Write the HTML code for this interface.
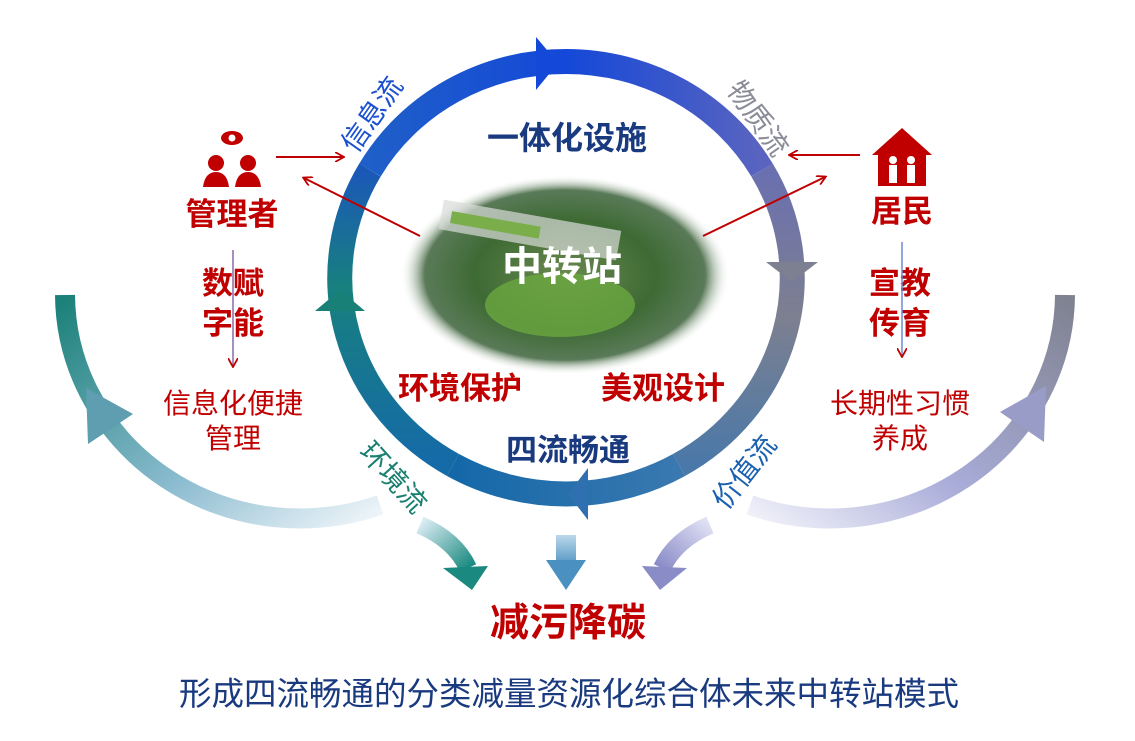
<!DOCTYPE html>
<html><head><meta charset="utf-8"><style>
body{margin:0;background:#fff;width:1135px;height:736px;overflow:hidden}
text{font-family:"Liberation Sans","Noto Sans CJK SC",sans-serif}
</style></head><body>
<svg width="1135" height="736" viewBox="0 0 1135 736" xmlns="http://www.w3.org/2000/svg">
<defs>
<linearGradient id="gt" x1="0" y1="0" x2="1" y2="0"><stop offset="0" stop-color="#1f5fc8"/><stop offset="0.5" stop-color="#1448d8"/><stop offset="1" stop-color="#5a64c0"/></linearGradient>
<linearGradient id="gr" x1="0" y1="0" x2="0" y2="1"><stop offset="0" stop-color="#6a6fb0"/><stop offset="0.5" stop-color="#7d8090"/><stop offset="1" stop-color="#4a78a8"/></linearGradient>
<linearGradient id="gb" x1="1" y1="0" x2="0" y2="0"><stop offset="0" stop-color="#3a78b0"/><stop offset="1" stop-color="#1468a8"/></linearGradient>
<linearGradient id="gl" x1="0" y1="1" x2="0" y2="0"><stop offset="0" stop-color="#156aa8"/><stop offset="0.6" stop-color="#18807e"/><stop offset="1" stop-color="#1a58b8"/></linearGradient>
<linearGradient id="oL" x1="0" y1="0" x2="1" y2="1"><stop offset="0" stop-color="#1a8078"/><stop offset="0.6" stop-color="#8cbcd0"/><stop offset="1" stop-color="#f0f6fa"/></linearGradient>
<linearGradient id="oR" x1="1" y1="0" x2="0" y2="1"><stop offset="0" stop-color="#7f8290"/><stop offset="0.6" stop-color="#a8acd8"/><stop offset="1" stop-color="#f2f2fa"/></linearGradient>
<linearGradient id="sL" x1="0" y1="0" x2="1" y2="1"><stop offset="0" stop-color="#d8eaf2"/><stop offset="1" stop-color="#1a8a80"/></linearGradient>
<linearGradient id="sR" x1="1" y1="0" x2="0" y2="1"><stop offset="0" stop-color="#e0e0f4"/><stop offset="1" stop-color="#8a8cc8"/></linearGradient>
<linearGradient id="sM" x1="0" y1="0" x2="0" y2="1"><stop offset="0" stop-color="#bcd8ea"/><stop offset="1" stop-color="#4a90c0"/></linearGradient>
<radialGradient id="img" cx="0.5" cy="0.5" r="0.5"><stop offset="0" stop-color="#6a8a50"/><stop offset="0.55" stop-color="#3e6a34"/><stop offset="0.85" stop-color="#5a7a58"/><stop offset="1" stop-color="#ffffff" stop-opacity="0"/></radialGradient>
<marker id="ar" markerWidth="10" markerHeight="10" refX="8" refY="5" orient="auto" markerUnits="userSpaceOnUse"><path d="M0,0 L9,5 L0,10" fill="none" stroke="#c00000" stroke-width="1.8"/></marker>
</defs>

<!-- outer arcs -->
<path d="M65,295 A235,225 0 0 0 380,505" fill="none" stroke="url(#oL)" stroke-width="20"/>
<polygon points="86,388 88,444 133,414" fill="#5e9eb0"/>
<path d="M1065,295 A235,225 0 0 1 750,505" fill="none" stroke="url(#oR)" stroke-width="20"/>
<polygon points="1046,386 1044,442 1000,412" fill="#9a9cc8"/>
<!-- small arrows to bottom -->
<path d="M420,525 Q455,540 468,568" fill="none" stroke="url(#sL)" stroke-width="18"/>
<polygon points="443,568 488,566 472,590" fill="#1a8a80"/>
<path d="M710,525 Q675,540 662,568" fill="none" stroke="url(#sR)" stroke-width="18"/>
<polygon points="642,566 687,568 660,590" fill="#8a8cc8"/>
<rect x="556" y="535" width="20" height="32" fill="url(#sM)"/>
<polygon points="546,560 586,560 566,590" fill="#4a90c0"/>

<!-- main ring: center (566,278) rx 226 ry 216 -->
<path d="M370,170 A226,216 0 0 1 762,170" fill="none" stroke="url(#gt)" stroke-width="25"/>
<path d="M762,170 A226,216 0 0 1 679,465" fill="none" stroke="url(#gr)" stroke-width="25"/>
<path d="M679,465 A226,216 0 0 1 453,465" fill="none" stroke="url(#gb)" stroke-width="25"/>
<path d="M453,465 A226,216 0 0 1 370,170" fill="none" stroke="url(#gl)" stroke-width="25"/>
<polygon points="536,37 558,63 536,90" fill="#1448d8"/>
<polygon points="766,262 818,262 792,282" fill="#7d8090"/>
<polygon points="588,468 568,494 588,520" fill="#2f70b0"/>
<polygon points="340,290 315,311 365,311" fill="#198078"/>

<!-- center image -->
<ellipse cx="565" cy="275" rx="165" ry="100" fill="url(#img)"/>
<ellipse cx="560" cy="305" rx="75" ry="32" fill="#6aa840" opacity="0.8"/>
<rect x="440" y="215" width="180" height="30" fill="#d8dcd8" opacity="0.7" transform="rotate(10 530 230)"/>
<rect x="450" y="225" width="90" height="12" fill="#7aae4a" transform="rotate(10 530 230)"/>

<text x="567" y="149" font-size="32" font-weight="bold" fill="#1a3a80" text-anchor="middle">一体化设施</text>
<text x="562" y="280" font-size="40" font-weight="bold" fill="#fff" text-anchor="middle">中转站</text>
<text x="460" y="399" font-size="31" font-weight="bold" fill="#c00000" text-anchor="middle">环境保护</text>
<text x="663" y="399" font-size="31" font-weight="bold" fill="#c00000" text-anchor="middle">美观设计</text>
<text x="568" y="461" font-size="31" font-weight="bold" fill="#1a3a80" text-anchor="middle">四流畅通</text>
<text x="568" y="636" font-size="39" font-weight="bold" fill="#c00000" text-anchor="middle">减污降碳</text>
<text x="569" y="705" font-size="32.5" fill="#1a3a80" text-anchor="middle">形成四流畅通的分类减量资源化综合体未来中转站模式</text>

<text transform="translate(380,120) rotate(-55)" font-size="28" fill="#1a50d0" text-anchor="middle">信息流</text>
<text transform="translate(750,124) rotate(55)" font-size="28" fill="#8a8c98" text-anchor="middle">物质流</text>
<text transform="translate(386,484) rotate(48)" font-size="28" fill="#1a8070" text-anchor="middle">环境流</text>
<text transform="translate(752,478) rotate(-52)" font-size="28" fill="#1a60b0" text-anchor="middle">价值流</text>

<!-- left side -->
<g fill="#c00000">
<circle cx="216" cy="163" r="8"/><path d="M203,187 Q205,172 216,172 Q227,172 229,187Z"/>
<circle cx="248" cy="163" r="8"/><path d="M235,187 Q237,172 248,172 Q259,172 261,187Z"/>
<ellipse cx="232" cy="138" rx="11" ry="7"/>
</g>
<circle cx="232" cy="138" r="3.5" fill="#fff"/>
<text x="232" y="225" font-size="31" font-weight="bold" fill="#c00000" text-anchor="middle">管理者</text>
<text x="233" y="294" font-size="31" font-weight="bold" fill="#c00000" text-anchor="middle">数赋</text>
<text x="233" y="334" font-size="31" font-weight="bold" fill="#c00000" text-anchor="middle">字能</text>
<line x1="233" y1="250" x2="233" y2="366" stroke="#8a6aa8" stroke-width="1.5" marker-end="url(#ar)"/>
<text x="233" y="413" font-size="28" fill="#c00000" text-anchor="middle">信息化便捷</text>
<text x="233" y="448" font-size="28" fill="#c00000" text-anchor="middle">管理</text>
<line x1="276" y1="157" x2="343" y2="157" stroke="#c00000" stroke-width="2" marker-end="url(#ar)"/>
<line x1="420" y1="236" x2="304" y2="178" stroke="#c00000" stroke-width="2" marker-end="url(#ar)"/>

<!-- right side -->
<g fill="#c00000">
<polygon points="902,128 872,155 932,155"/>
<rect x="878" y="152" width="48" height="34"/>
</g>
<g fill="#fff"><circle cx="893" cy="160" r="4"/><rect x="889" y="165" width="8" height="18"/><circle cx="911" cy="160" r="4"/><rect x="907" y="165" width="8" height="18"/></g>
<text x="902" y="222" font-size="31" font-weight="bold" fill="#c00000" text-anchor="middle">居民</text>
<text x="900" y="294" font-size="31" font-weight="bold" fill="#c00000" text-anchor="middle">宣教</text>
<text x="900" y="334" font-size="31" font-weight="bold" fill="#c00000" text-anchor="middle">传育</text>
<line x1="902" y1="242" x2="902" y2="356" stroke="#6a8ad0" stroke-width="1.5" marker-end="url(#ar)"/>
<text x="900" y="413" font-size="28" fill="#c00000" text-anchor="middle">长期性习惯</text>
<text x="900" y="448" font-size="28" fill="#c00000" text-anchor="middle">养成</text>
<line x1="860" y1="155" x2="790" y2="155" stroke="#c00000" stroke-width="2" marker-end="url(#ar)"/>
<line x1="703" y1="236" x2="825" y2="177" stroke="#c00000" stroke-width="2" marker-end="url(#ar)"/>
</svg>
</body></html>
